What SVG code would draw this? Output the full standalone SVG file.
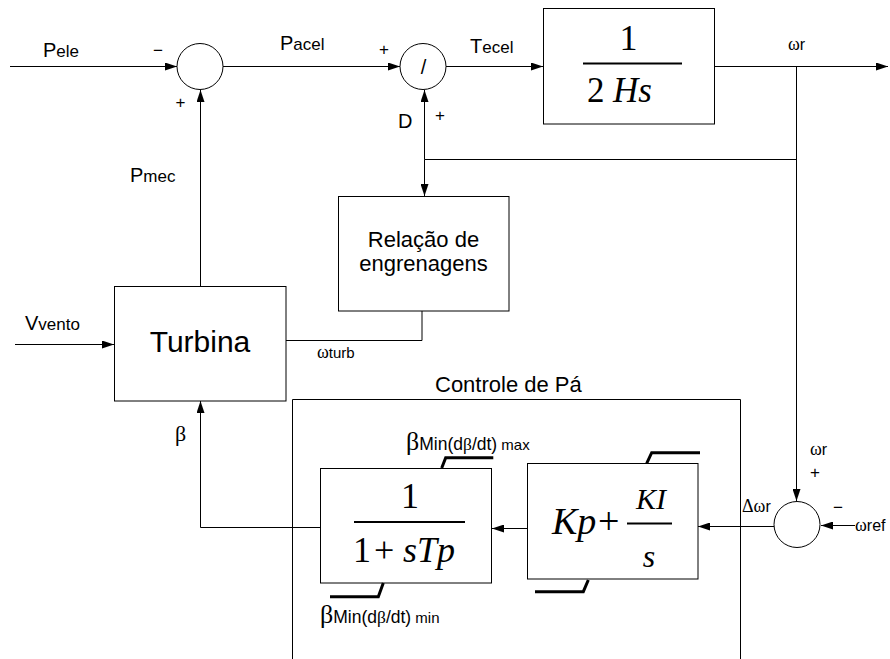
<svg xmlns="http://www.w3.org/2000/svg" width="890" height="659" viewBox="0 0 890 659">
<style>
  .ln{fill:none;stroke:#000;stroke-width:1}
  .box{fill:#fff;stroke:#000;stroke-width:1}
  .lim{fill:none;stroke:#000;stroke-width:3}
  .frac{stroke:#000;stroke-width:2}
  text{font-family:"Liberation Sans",Arial,sans-serif;fill:#000}
  .m{font-size:20px}
  .s{font-size:17px}
  .g{font-family:"Liberation Serif","Times New Roman",serif}
  .math{font-family:"Liberation Serif","Times New Roman",serif}
  .it{font-style:italic}
</style>
<defs>
  <marker id="ah" markerWidth="12" markerHeight="8" refX="12" refY="4" orient="auto" markerUnits="userSpaceOnUse">
    <path d="M0,0 L12,4 L0,8 Z" fill="#000"/>
  </marker>
</defs>
<rect width="890" height="659" fill="#fff"/>

<g id="connectors">
  <path class="ln" d="M10 66.5 H177" marker-end="url(#ah)"/>
  <path class="ln" d="M200.5 286 V90" marker-end="url(#ah)"/>
  <path class="ln" d="M223 66.5 H400" marker-end="url(#ah)"/>
  <path class="ln" d="M446 66.5 H543" marker-end="url(#ah)"/>
  <path class="ln" d="M715 66.5 H888" marker-end="url(#ah)"/>
  <path class="ln" d="M796.5 66.5 V501" marker-end="url(#ah)"/>
  <path class="ln" d="M796.5 159.5 H424.5"/>
  <path class="ln" d="M424.5 159.5 V90" marker-end="url(#ah)"/>
  <path class="ln" d="M424.5 159.5 V196" marker-end="url(#ah)"/>
  <path class="ln" d="M422 311 V340.5 H286"/>
  <path class="ln" d="M15 344.5 H114" marker-end="url(#ah)"/>
  <path class="ln" d="M320.5 527.5 H200.5 V401" marker-end="url(#ah)"/>
  <path class="ln" d="M527 528.5 H492" marker-end="url(#ah)"/>
  <path class="ln" d="M774 526.5 H698" marker-end="url(#ah)"/>
  <path class="ln" d="M855 525.5 H821" marker-end="url(#ah)"/>
</g>

<g id="sum1">
  <circle class="box" cx="200" cy="66.5" r="23"/>
  <text class="s" x="158" y="56" text-anchor="middle">−</text>
  <text class="s" x="180.5" y="108" text-anchor="middle">+</text>
</g>

<g id="div">
  <circle class="box" cx="423" cy="66.5" r="23"/>
  <text x="423.5" y="74" font-size="20" text-anchor="middle">/</text>
  <text class="s" x="384" y="55" text-anchor="middle">+</text>
  <text class="s" x="440" y="121" text-anchor="middle">+</text>
  <text class="m" x="398" y="128">D</text>
</g>

<g id="inertia">
  <rect class="box" x="543.5" y="8.5" width="171" height="115.5"/>
  <text class="math" x="628.5" y="50" font-size="36" text-anchor="middle">1</text>
  <line class="frac" x1="583" y1="63.5" x2="682" y2="63.5"/>
  <text class="math" x="587" y="101.5" font-size="35">2</text>
  <text class="math it" x="613" y="101.5" font-size="35">Hs</text>
</g>

<g id="sum2">
  <circle class="box" cx="797" cy="524.5" r="23"/>
  <text class="s" x="815" y="478" text-anchor="middle">+</text>
  <text class="s" x="838" y="513" text-anchor="middle">−</text>
</g>

<g id="turbina">
  <rect class="box" x="114.5" y="286.5" width="171.5" height="114.5"/>
  <text x="200" y="352" font-size="30" text-anchor="middle">Turbina</text>
</g>

<g id="engrenagens">
  <rect class="box" x="338.5" y="196.5" width="170.5" height="114.5"/>
  <text x="423.5" y="247" font-size="22" text-anchor="middle">Relação de</text>
  <text x="423.5" y="271" font-size="22" text-anchor="middle">engrenagens</text>
</g>

<g id="controle">
  <path class="ln" d="M292.5 660 V399.5 H740.5 V660"/>
  <text x="435" y="392" font-size="22">Controle de Pá</text>
</g>

<g id="atuador">
  <rect class="box" x="320.5" y="468.5" width="171" height="114.5"/>
  <text class="math" x="410" y="508" font-size="36" text-anchor="middle">1</text>
  <line class="frac" x1="354" y1="522" x2="465" y2="522"/>
  <text class="math" x="353" y="561.5" font-size="36">1</text>
  <text class="math" x="374" y="561.5" font-size="36">+</text>
  <text class="math it" x="403" y="561.5" font-size="36">sTp</text>
  <path class="lim" d="M441.7 468 L445.7 457.7 H493.3"/>
  <path class="lim" d="M383.3 583 L378.3 596.7 H330"/>
</g>

<g id="pi">
  <rect class="box" x="527.5" y="463.5" width="170.5" height="115.5"/>
  <text class="math it" x="552" y="534" font-size="38">Kp</text>
  <text class="math" x="598" y="534" font-size="38">+</text>
  <text class="math it" x="651" y="508.5" font-size="30" text-anchor="middle">KI</text>
  <line class="frac" x1="627" y1="523.5" x2="672" y2="523.5"/>
  <text class="math it" x="649" y="566.5" font-size="32" text-anchor="middle">s</text>
  <path class="lim" d="M646.7 463.3 L651.7 452.7 H700"/>
  <path class="lim" d="M588.3 580 L583.3 591.7 H535"/>
</g>

<g id="labels">
  <text x="43" y="57"><tspan class="m">P</tspan><tspan class="s">ele</tspan></text>
  <text x="280" y="50"><tspan class="m">P</tspan><tspan class="s">acel</tspan></text>
  <text x="470" y="53"><tspan class="m">T</tspan><tspan class="s">ecel</tspan></text>
  <text x="130" y="182"><tspan class="m">P</tspan><tspan class="s">mec</tspan></text>
  <text x="25" y="330"><tspan class="m">V</tspan><tspan class="s">vento</tspan></text>
  <text x="788" y="50" font-size="16"><tspan class="g" font-size="18">ω</tspan>r</text>
  <text x="317" y="358" font-size="15"><tspan class="g" font-size="18">ω</tspan>turb</text>
  <text class="g" x="175" y="441" font-size="22">β</text>
  <text x="810" y="455" font-size="16"><tspan class="g" font-size="18">ω</tspan>r</text>
  <text x="855" y="531" font-size="16"><tspan class="g" font-size="18">ω</tspan>ref</text>
  <text x="742" y="512" font-size="16"><tspan class="g" font-size="18">Δω</tspan>r</text>
  <text x="406" y="450"><tspan class="g" font-size="26">β</tspan><tspan font-size="17.5">Min(d</tspan><tspan class="g" font-size="17.5">β</tspan><tspan font-size="17.5">/dt)</tspan><tspan font-size="15"> max</tspan></text>
  <text x="320" y="623"><tspan class="g" font-size="26">β</tspan><tspan font-size="17.5">Min(d</tspan><tspan class="g" font-size="17.5">β</tspan><tspan font-size="17.5">/dt)</tspan><tspan font-size="15"> min</tspan></text>
</g>
</svg>
